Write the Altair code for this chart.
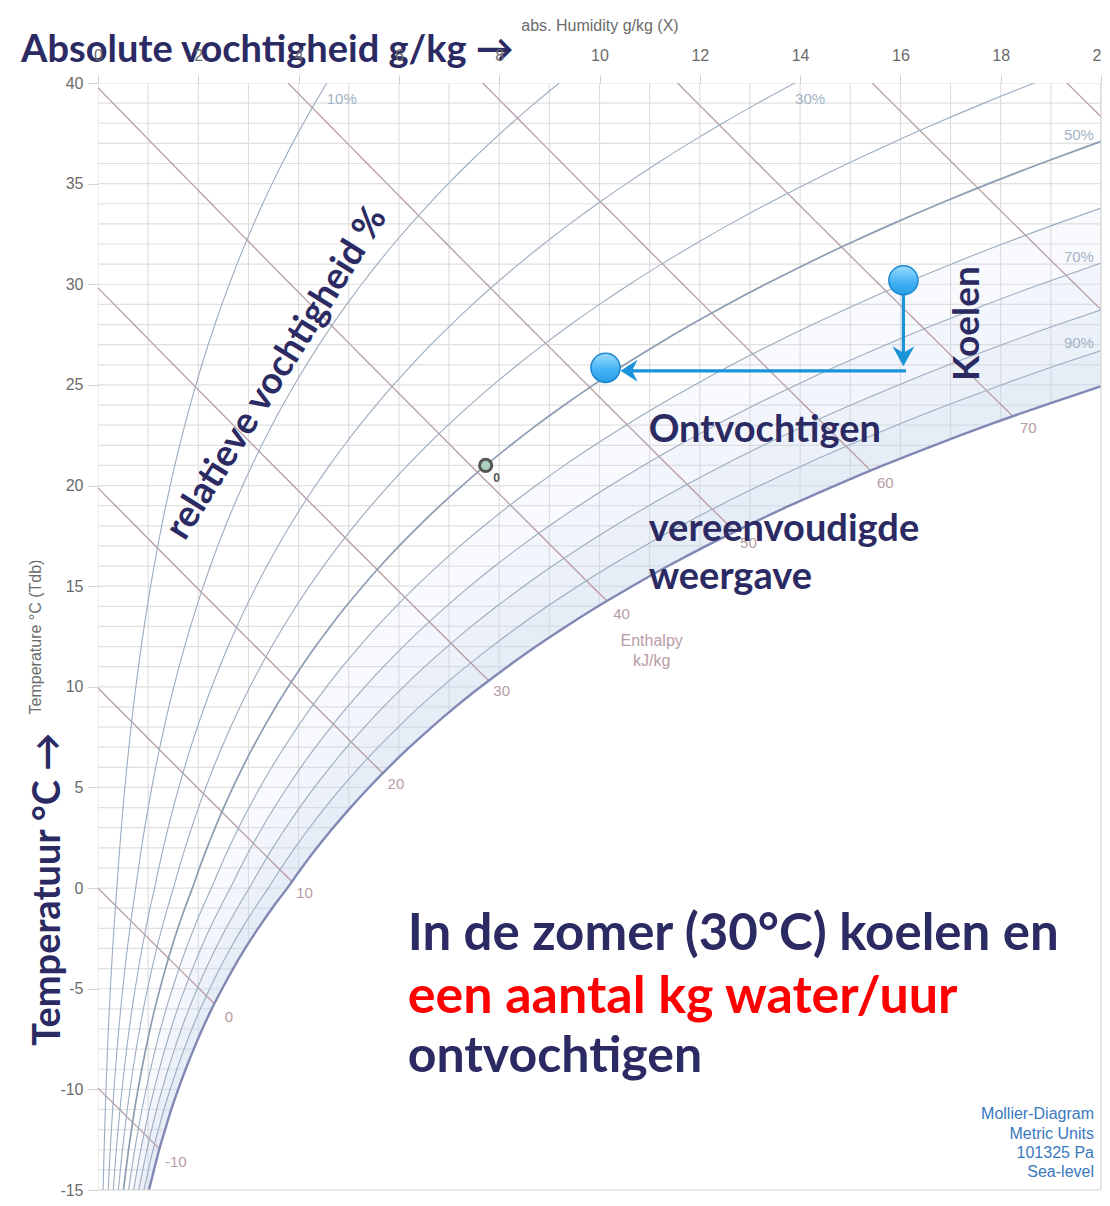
import altair as alt
import pandas as pd

# ---------------- data ----------------
P_ATM = 101325.0
T_TABLE = list(range(-15, 41))
# saturation vapour pressure (Pa): over ice below 0 degC, over water above
PS_TABLE = [165.3, 181.5, 198.3, 217.6, 237.5, 259.9, 283.9, 309.9, 337.8, 368.1,
            401.7, 437.3, 475.7, 517.6, 562.6, 611.2,
            657.1, 706.0, 758.0, 813.6, 872.6, 935.3, 1002.0, 1073.0, 1148.0, 1228.1,
            1312.9, 1402.7, 1497.9, 1598.8, 1705.6, 1818.5, 1938.0, 2064.4, 2197.8, 2339.3,
            2487.7, 2645.3, 2810.4, 2985.0, 3169.0, 3362.9, 3567.0, 3781.8, 4007.8, 4245.5,
            4495.3, 4757.8, 5033.5, 5322.9, 5626.7, 5945.3, 6279.5, 6629.8, 6996.9, 7381.4]
RH_LEVELS = [10, 20, 30, 40, 50, 60, 70, 80, 90, 100]
SHADE_FROM = [60, 70, 80, 90]
H_LEVELS = [-10, 0, 10, 20, 30, 40, 50, 60, 70, 80, 90]
X_TICKS = [0, 2, 4, 6, 8, 10, 12, 14, 16, 18, 20]
Y_TICKS = [-15, -10, -5, 0, 5, 10, 15, 20, 25, 30, 35, 40]
GRID_T = list(range(-15, 41))
GRID_X = list(range(0, 21))

RH_LABELS = ["10%", "30%", "50%", "70%", "90%"]
RH_LABEL_X = [4.86, 14.20, 19.56, 19.56, 19.56]
RH_LABEL_T = [39.2, 39.2, 37.42, 31.37, 27.06]

H_LABELS = ["-10", "0", "10", "20", "30", "40", "50", "60", "70"]
H_LABEL_X = [1.55, 2.61, 4.12, 5.94, 8.05, 10.44, 12.97, 15.70, 18.55]
H_LABEL_T = [-13.6, -6.41, -0.26, 5.15, 9.81, 13.62, 17.14, 20.12, 22.85]

# process points (absolute humidity g/kg, temperature degC)
START_X, START_T = 16.06, 30.2
END_X, END_T = 10.12, 25.85
PROCESS_T = 25.7
REF_X, REF_T = 7.73, 21.0

# ---------------- derived tables ----------------
def x_rh(ps, rh):
    pv = rh / 100.0 * ps
    return 622.0 * pv / (P_ATM - pv)

def x_h(h, t):
    return (h - 1.006 * t) * 1000.0 / (2501.0 + 1.86 * t)

XS_SAT = [x_rh(p, 100) for p in PS_TABLE]

rh_rows = []
for rh in RH_LEVELS:
    for i, (t, p) in enumerate(zip(T_TABLE, PS_TABLE)):
        rh_rows.append({"rh": rh, "x": x_rh(p, rh), "T": t, "i": i})
rh_df = pd.DataFrame(rh_rows)

h_rows = []
for h in H_LEVELS:
    t0 = h / 1.006
    pts = [(x_h(h, 40), 40.0)] if t0 > 40 else [(0.0, t0)]
    start = min(40.0, t0)
    for i in range(len(T_TABLE) - 1, -1, -1):
        t = T_TABLE[i]
        if t >= start:
            continue
        d = x_h(h, t) - XS_SAT[i]
        if d <= 0:
            pts.append((x_h(h, t), t))
        else:
            d1 = x_h(h, T_TABLE[i + 1]) - XS_SAT[i + 1]
            tc = t + d / (d - d1)
            pts.append((x_h(h, tc), tc))
            break
    for k, (xv, tv) in enumerate(pts):
        h_rows.append({"h": h, "x": xv, "T": tv, "i": k})
h_df = pd.DataFrame(h_rows)

shade_rows = []
for rh in SHADE_FROM:
    for i, (t, p) in enumerate(zip(T_TABLE, PS_TABLE)):
        shade_rows.append({"rh": rh, "x": x_rh(p, rh), "x2": XS_SAT[i], "T": t})
shade_df = pd.DataFrame(shade_rows)

cover_df = pd.DataFrame({"T": T_TABLE, "x": XS_SAT, "x2": [26.0] * len(T_TABLE)})

hgrid_df = pd.DataFrame({"T": GRID_T, "x": [0] * len(GRID_T), "x2": [20] * len(GRID_T)})
vgrid_df = pd.DataFrame({"x": GRID_X, "T": [-15] * len(GRID_X), "T2": [40] * len(GRID_X)})

# ---------------- scales / axes ----------------
xs = alt.Scale(domain=[0, 20], nice=False, zero=False)
ys = alt.Scale(domain=[-15, 40], nice=False, zero=False)
AXF = "Liberation Sans"
x_axis = alt.Axis(orient="top", values=X_TICKS, title="abs. Humidity g/kg (X)", grid=False,
                  domain=False, tickColor="#d0d0d0", tickSize=8, labelFontSize=16,
                  labelColor="#6b6b6b", labelFont=AXF, labelPadding=12, labelFlush=False,
                  labelExpr="datum.value + ''",
                  titleFont=AXF, titleFontSize=16, titleFontWeight="normal",
                  titleColor="#6b6b6b", titlePadding=14, zindex=1)
y_axis = alt.Axis(orient="left", values=Y_TICKS, title="Temperature °C (Tdb)", grid=False,
                  domain=False, tickColor="#d0d0d0", tickSize=10, labelFontSize=16,
                  labelColor="#6b6b6b", labelFont=AXF, labelPadding=5, labelFlush=False,
                  labelExpr="datum.value + ''",
                  titleFont=AXF, titleFontSize=16, titleFontWeight="normal",
                  titleColor="#6b6b6b", titlePadding=16, zindex=1)

def X(f="x"):
    return alt.X(f"{f}:Q", scale=xs, axis=x_axis)

def Y(f="T"):
    return alt.Y(f"{f}:Q", scale=ys, axis=y_axis)

NAVY = "#2b2a63"
BOLD = "Lato"

layers = []
# grid
layers.append(alt.Chart(hgrid_df).mark_rule(color="#e0e0e0", strokeWidth=1.2, clip=True)
              .encode(x=X(), x2="x2:Q", y=Y()))
layers.append(alt.Chart(vgrid_df).mark_rule(color="#dcdcdc", strokeWidth=1.1, clip=True)
              .encode(x=X(), y=Y(), y2="T2:Q"))
# humid shading
layers.append(alt.Chart(shade_df).mark_area(orient="horizontal", interpolate="monotone",
                                            color="#c6d9f0", opacity=0.13, clip=True)
              .encode(y=Y(), x=X(), x2="x2:Q", detail="rh:N"))
# cover of super-saturated region
layers.append(alt.Chart(cover_df).mark_area(orient="horizontal", interpolate="monotone",
                                            color="white", opacity=1, clip=True)
              .encode(y=Y(), x=X(), x2="x2:Q"))
# enthalpy lines
layers.append(alt.Chart(h_df).mark_line(color="#b89ca4", strokeWidth=1.3, clip=True)
              .encode(x=X(), y=Y(), detail="h:N", order="i:Q"))
# RH curves
layers.append(alt.Chart(rh_df[(rh_df.rh != 100) & (rh_df.rh != 50)])
              .mark_line(color="#9cacc0", strokeWidth=1.1, interpolate="monotone", clip=True)
              .encode(x=X(), y=Y(), detail="rh:N", order="i:Q"))
layers.append(alt.Chart(rh_df[rh_df.rh == 50])
              .mark_line(color="#8c9cb2", strokeWidth=1.7, interpolate="monotone", clip=True)
              .encode(x=X(), y=Y(), order="i:Q"))
layers.append(alt.Chart(rh_df[rh_df.rh == 100])
              .mark_line(color="#8288b4", strokeWidth=2.4, interpolate="monotone", clip=True)
              .encode(x=X(), y=Y(), order="i:Q"))
# frame (bottom and right)
frame_df = pd.DataFrame({"x": [0, 20], "x2": [20, 20], "T": [-15, -15], "T2": [-15, 40]})
layers.append(alt.Chart(frame_df).mark_rule(color="#d6d6d6", strokeWidth=1.2)
              .encode(x=X(), x2="x2:Q", y=Y(), y2="T2:Q"))

def text_layer(labels, xv, tv, **kw):
    df = pd.DataFrame({"x": xv, "T": tv, "label": labels})
    return alt.Chart(df).mark_text(**kw).encode(x=X(), y=Y(), text="label:N")

# labels of curves
layers.append(text_layer(RH_LABELS, RH_LABEL_X, RH_LABEL_T, font=AXF, fontSize=15,
                         color="#a3b3c6", align="center", baseline="middle"))
layers.append(text_layer(H_LABELS, H_LABEL_X, H_LABEL_T, font=AXF, fontSize=15,
                         color="#b89ca4", align="center", baseline="middle"))
layers.append(text_layer(["Enthalpy", "kJ/kg"], [11.04, 11.04], [12.29, 11.29], font=AXF,
                         fontSize=16, color="#b89ca4", align="center", baseline="middle"))
layers.append(text_layer(["Mollier-Diagram", "Metric Units", "101325 Pa", "Sea-level"],
                         [19.86] * 4, [-11.21, -12.21, -13.15, -14.09], font=AXF, fontSize=16,
                         color="#3a78be", align="right", baseline="middle"))

# process arrows
shaft_df = pd.DataFrame({"x": [START_X, START_X, START_X + 0.05, END_X + 0.35],
                         "T": [START_T - 0.6, 26.2, PROCESS_T, PROCESS_T],
                         "seg": [1, 1, 2, 2], "i": [0, 1, 0, 1]})
layers.append(alt.Chart(shaft_df).mark_line(color="#1b93d8", strokeWidth=3.2)
              .encode(x=X(), y=Y(), detail="seg:N", order="i:Q"))
layers.append(alt.Chart(pd.DataFrame({"x": [START_X], "T": [25.93]}))
              .mark_point(shape="M0,0 L-1.1,-2 L0,-1.35 L1.1,-2 Z", filled=True, size=400,
                          color="#1b93d8", opacity=1)
              .encode(x=X(), y=Y()))
layers.append(alt.Chart(pd.DataFrame({"x": [END_X + 0.3], "T": [PROCESS_T]}))
              .mark_point(shape="M0,0 L1.7,-1.1 L1.15,0 L1.7,1.1 Z", filled=True, size=400,
                          color="#1b93d8", opacity=1)
              .encode(x=X(), y=Y()))
grad = alt.Gradient(gradient="linear",
                    stops=[alt.GradientStop(color="#9ddcff", offset=0),
                           alt.GradientStop(color="#3fb0f2", offset=0.6),
                           alt.GradientStop(color="#2a9fe6", offset=1)],
                    x1=0, x2=0, y1=0, y2=1)
layers.append(alt.Chart(pd.DataFrame({"x": [START_X, END_X], "T": [START_T, END_T]}))
              .mark_circle(size=850, fill=grad, stroke="#1a86cc", strokeWidth=1.5, opacity=1)
              .encode(x=X(), y=Y()))
layers.append(alt.Chart(pd.DataFrame({"x": [REF_X], "T": [REF_T]}))
              .mark_circle(size=150, fill="#a9d3bf", stroke="#555555", strokeWidth=3, opacity=1)
              .encode(x=X(), y=Y()))
layers.append(text_layer(["0"], [REF_X + 0.22], [REF_T - 0.62], font=AXF, fontSize=12,
                         fontWeight="bold", color="#555555", align="center", baseline="middle"))

# slide annotations
layers.append(text_layer(["Absolute vochtigheid g/kg \u2192"], [-1.534], [41.59], font=BOLD,
                         fontSize=38, fontWeight="bold", color=NAVY, align="left",
                         baseline="middle"))
layers.append(text_layer(["Temperatuur °C \u2192"], [-0.97], [-0.06], font=BOLD, fontSize=38,
                         fontWeight="bold", color=NAVY, align="center", baseline="middle",
                         angle=270))
layers.append(text_layer(["relatieve vochtigheid %"], [3.566], [25.57], font=BOLD, fontSize=37,
                         fontWeight="bold", color=NAVY, align="center", baseline="middle",
                         angle=302))
layers.append(text_layer(["Koelen"], [17.35], [28.05], font=BOLD, fontSize=37,
                         fontWeight="bold", color=NAVY, align="center", baseline="middle",
                         angle=270))
layers.append(text_layer(["Ontvochtigen"], [10.98], [22.70], font=BOLD, fontSize=38,
                         fontWeight="bold", color=NAVY, align="left", baseline="middle"))
layers.append(text_layer(["vereenvoudigde", "weergave"], [10.98, 10.98], [17.79, 15.41],
                         font=BOLD, fontSize=38, fontWeight="bold", color=NAVY, align="left",
                         baseline="middle"))
layers.append(text_layer(["In de zomer (30°C) koelen en"], [6.175], [-2.34], font=BOLD,
                         fontSize=51, fontWeight="bold", color=NAVY, align="left",
                         baseline="middle"))
layers.append(text_layer(["ontvochtigen"], [6.175], [-8.39], font=BOLD, fontSize=50,
                         fontWeight="bold", color=NAVY, align="left", baseline="middle"))
layers.append(text_layer(["een aantal kg water/uur"], [6.175], [-5.41], font=BOLD, fontSize=52,
                         fontWeight="bold", color="#ff0000", align="left", baseline="middle"))

chart = alt.layer(*layers).properties(
    width=1003, height=1107,
    padding={"left": 90, "top": 75, "right": 1, "bottom": 8},
    autosize=alt.AutoSizeParams(type="none"),
    background="white",
).configure_view(stroke=None)

chart.save("out.html", embed_options={"renderer": "svg", "actions": False})
